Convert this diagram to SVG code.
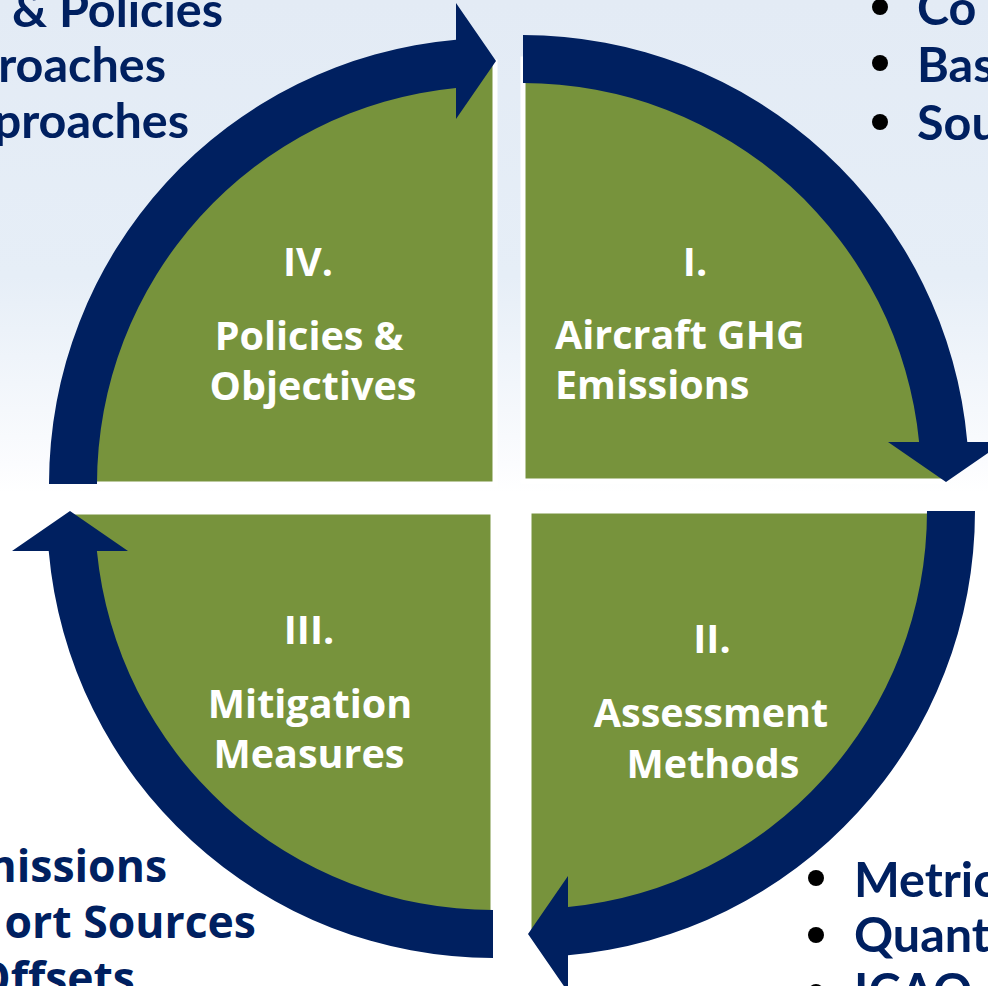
<svg xmlns="http://www.w3.org/2000/svg" xmlns:xlink="http://www.w3.org/1999/xlink" width="988" height="986" viewBox="0 0 988 986">
  <defs>
    <linearGradient id="bg" x1="0" y1="0" x2="0" y2="1">
      <stop offset="0" stop-color="#E3EBF5"/>
      <stop offset="0.28" stop-color="#E6EEF7"/>
      <stop offset="0.47" stop-color="#FBFCFE"/>
      <stop offset="0.5" stop-color="#FFFFFF"/>
      <stop offset="1" stop-color="#FFFFFF"/>
    </linearGradient>
    <!-- quarter disc, drawn for the top-right position; rotated for the others -->
    <path id="pie" d="M0,0 V-422 A422,422 0 0 1 422,0 Z"/>
    <!-- curved band with arrowhead, same local frame as the quarter disc -->
    <path id="ring-arrow" d="M0,-446 A446,446 0 0 1 444.3,-39 L481,-39 L423,1 L365,-39 L396.1,-39 A398,398 0 0 0 0,-398 Z"/>
  </defs>
  <style>
    .pie { fill: #77933C; stroke: #FFFFFF; stroke-width: 5; }
    .arrow { fill: #002060; }
    .lbl { font-family: "Open Sans", "Noto Sans", sans-serif; font-weight: 700; font-size: 39.5px; fill: #FFFFFF; text-anchor: middle; }
    .lbl.left { text-anchor: start; }
    .side { font-family: Lato, "Open Sans", sans-serif; font-weight: 700; font-size: 48.5px; fill: #002060; }
    .side.end { text-anchor: end; }
    .side2 { font-family: "Open Sans", "Noto Sans", sans-serif; font-weight: 700; font-size: 44.5px; fill: #002060; text-anchor: end; }
    .bullet { fill: #000000; }
  </style>

  <rect x="0" y="0" width="988" height="986" fill="url(#bg)"/>

  <!-- side notes -->
  <g id="notes-top-left">
    <text class="side end" x="223" y="27">&amp; Policies</text>
    <text class="side end" x="166" y="82">roaches</text>
    <text class="side end" x="189" y="138">proaches</text>
  </g>
  <g id="notes-top-right">
    <circle class="bullet" cx="880" cy="7" r="8"/>
    <circle class="bullet" cx="880" cy="63" r="8"/>
    <circle class="bullet" cx="880" cy="122" r="8"/>
    <text class="side" x="917" y="25">Co</text>
    <text class="side" x="917" y="82">Bas</text>
    <text class="side" x="917" y="140">Sou</text>
  </g>
  <g id="notes-bottom-left">
    <text class="side2" x="167" y="882">missions</text>
    <text class="side2" x="256" y="938">ort Sources</text>
    <text class="side2" x="135" y="994">Offsets</text>
  </g>
  <g id="notes-bottom-right">
    <circle class="bullet" cx="816" cy="878" r="8"/>
    <circle class="bullet" cx="816" cy="935" r="8"/>
    <circle class="bullet" cx="816" cy="992" r="8"/>
    <text class="side" x="854" y="897">Metric</text>
    <text class="side" x="854" y="952">Quant</text>
    <text class="side" x="854" y="1008">ICAO</text>
  </g>

  <!-- cycle stages -->
  <g id="stage-1">
    <use xlink:href="#pie" href="#pie" class="pie" transform="translate(523,481)"/>
    <text class="lbl" x="695" y="276">I.</text>
    <text class="lbl left" x="555" y="349">Aircraft GHG</text>
    <text class="lbl left" x="555" y="399">Emissions</text>
  </g>
  <g id="stage-2">
    <use xlink:href="#pie" href="#pie" class="pie" transform="translate(529,511) rotate(90)"/>
    <text class="lbl" x="712" y="653">II.</text>
    <text class="lbl" x="711" y="727">Assessment</text>
    <text class="lbl" x="713" y="778">Methods</text>
  </g>
  <g id="stage-3">
    <use xlink:href="#pie" href="#pie" class="pie" transform="translate(493,512) rotate(180)"/>
    <text class="lbl" x="309" y="644">III.</text>
    <text class="lbl" x="310" y="718">Mitigation</text>
    <text class="lbl" x="309" y="768">Measures</text>
  </g>
  <g id="stage-4">
    <use xlink:href="#pie" href="#pie" class="pie" transform="translate(495,484) rotate(270)"/>
    <text class="lbl" x="308" y="276">IV.</text>
    <text class="lbl" x="309" y="350">Policies &amp;</text>
    <text class="lbl" x="313" y="400">Objectives</text>
  </g>

  <!-- circular arrows linking the stages -->
  <g id="connectors">
    <use xlink:href="#ring-arrow" href="#ring-arrow" class="arrow" transform="translate(523,481)"/>
    <use xlink:href="#ring-arrow" href="#ring-arrow" class="arrow" transform="translate(529,511) rotate(90)"/>
    <use xlink:href="#ring-arrow" href="#ring-arrow" class="arrow" transform="translate(493,512) rotate(180)"/>
    <use xlink:href="#ring-arrow" href="#ring-arrow" class="arrow" transform="translate(495,484) rotate(270)"/>
  </g>
</svg>
